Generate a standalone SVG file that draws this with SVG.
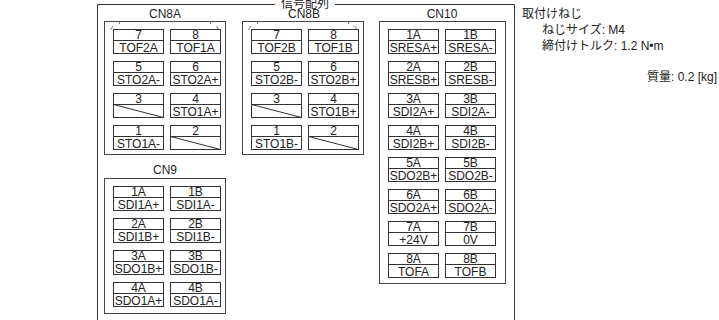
<svg xmlns="http://www.w3.org/2000/svg" width="719" height="320" viewBox="0 0 719 320">
<style>
.t{font-family:"Liberation Sans","Noto Sans CJK JP",sans-serif;font-size:12px;fill:#222;}
.c{text-anchor:middle;}
.box{fill:none;stroke:#444;stroke-width:1;}
.cell{fill:#fff;stroke:#333;stroke-width:1;}
.ln{stroke:#333;stroke-width:1;fill:none;}
.tick{stroke:#555;stroke-width:0.8;fill:none;}
</style>
<rect width="719" height="320" fill="#fff"/>
<g id="frame">
<path class="ln" d="M275,4.5 H97.5 V330 M335,4.5 H514.5 V330"/>
<text class="t c" x="305" y="8">信号配列</text>
</g>
<g id="CN8A">
<text class="t c" x="165" y="18">CN8A</text>
<rect class="box" x="104.5" y="21.5" width="121" height="133"/>
<path class="tick" d="M110.5,30 L113,26 M119.5,21.5 V24 M219,30 L216.5,26 M210.5,21.5 V24"/>
<g id="CN8A-7"><rect class="cell" x="113.5" y="29.5" width="50" height="24"/><path class="ln" d="M113.5,40.5 H163.5"/><text class="t c" x="138.5" y="39">7</text><text class="t c" x="138.5" y="51.5">TOF2A</text></g>
<g id="CN8A-8"><rect class="cell" x="170.5" y="29.5" width="50" height="24"/><path class="ln" d="M170.5,40.5 H220.5"/><text class="t c" x="195.5" y="39">8</text><text class="t c" x="195.5" y="51.5">TOF1A</text></g>
<g id="CN8A-5"><rect class="cell" x="113.5" y="61.5" width="50" height="24"/><path class="ln" d="M113.5,72.5 H163.5"/><text class="t c" x="138.5" y="71">5</text><text class="t c" x="138.5" y="83.5">STO2A-</text></g>
<g id="CN8A-6"><rect class="cell" x="170.5" y="61.5" width="50" height="24"/><path class="ln" d="M170.5,72.5 H220.5"/><text class="t c" x="195.5" y="71">6</text><text class="t c" x="195.5" y="83.5">STO2A+</text></g>
<g id="CN8A-3"><rect class="cell" x="113.5" y="93.5" width="50" height="24"/><path class="ln" d="M113.5,104.5 H163.5 M113.5,104.5 L163.5,117.5"/><text class="t c" x="138.5" y="103">3</text></g>
<g id="CN8A-4"><rect class="cell" x="170.5" y="93.5" width="50" height="24"/><path class="ln" d="M170.5,104.5 H220.5"/><text class="t c" x="195.5" y="103">4</text><text class="t c" x="195.5" y="115.5">STO1A+</text></g>
<g id="CN8A-1"><rect class="cell" x="113.5" y="125.5" width="50" height="24"/><path class="ln" d="M113.5,136.5 H163.5"/><text class="t c" x="138.5" y="135">1</text><text class="t c" x="138.5" y="147.5">STO1A-</text></g>
<g id="CN8A-2"><rect class="cell" x="170.5" y="125.5" width="50" height="24"/><path class="ln" d="M170.5,136.5 H220.5 M170.5,136.5 L220.5,149.5"/><text class="t c" x="195.5" y="135">2</text></g>
</g>
<g id="CN8B">
<text class="t c" x="304" y="18">CN8B</text>
<rect class="box" x="242.5" y="21.5" width="121" height="133"/>
<path class="tick" d="M248.5,30 L251,26 M257.5,21.5 V24 M357,30 L354.5,26 M348.5,21.5 V24"/>
<g id="CN8B-7"><rect class="cell" x="251.5" y="29.5" width="50" height="24"/><path class="ln" d="M251.5,40.5 H301.5"/><text class="t c" x="276.5" y="39">7</text><text class="t c" x="276.5" y="51.5">TOF2B</text></g>
<g id="CN8B-8"><rect class="cell" x="308.5" y="29.5" width="50" height="24"/><path class="ln" d="M308.5,40.5 H358.5"/><text class="t c" x="333.5" y="39">8</text><text class="t c" x="333.5" y="51.5">TOF1B</text></g>
<g id="CN8B-5"><rect class="cell" x="251.5" y="61.5" width="50" height="24"/><path class="ln" d="M251.5,72.5 H301.5"/><text class="t c" x="276.5" y="71">5</text><text class="t c" x="276.5" y="83.5">STO2B-</text></g>
<g id="CN8B-6"><rect class="cell" x="308.5" y="61.5" width="50" height="24"/><path class="ln" d="M308.5,72.5 H358.5"/><text class="t c" x="333.5" y="71">6</text><text class="t c" x="333.5" y="83.5">STO2B+</text></g>
<g id="CN8B-3"><rect class="cell" x="251.5" y="93.5" width="50" height="24"/><path class="ln" d="M251.5,104.5 H301.5 M251.5,104.5 L301.5,117.5"/><text class="t c" x="276.5" y="103">3</text></g>
<g id="CN8B-4"><rect class="cell" x="308.5" y="93.5" width="50" height="24"/><path class="ln" d="M308.5,104.5 H358.5"/><text class="t c" x="333.5" y="103">4</text><text class="t c" x="333.5" y="115.5">STO1B+</text></g>
<g id="CN8B-1"><rect class="cell" x="251.5" y="125.5" width="50" height="24"/><path class="ln" d="M251.5,136.5 H301.5"/><text class="t c" x="276.5" y="135">1</text><text class="t c" x="276.5" y="147.5">STO1B-</text></g>
<g id="CN8B-2"><rect class="cell" x="308.5" y="125.5" width="50" height="24"/><path class="ln" d="M308.5,136.5 H358.5 M308.5,136.5 L358.5,149.5"/><text class="t c" x="333.5" y="135">2</text></g>
</g>
<g id="CN10">
<text class="t c" x="442" y="18">CN10</text>
<rect class="box" x="379.5" y="21.5" width="126" height="262"/>
<g id="CN10-1A"><rect class="cell" x="388.5" y="29.5" width="50" height="24"/><path class="ln" d="M388.5,40.5 H438.5"/><text class="t c" x="413.5" y="39">1A</text><text class="t c" x="413.5" y="51.5">SRESA+</text></g>
<g id="CN10-1B"><rect class="cell" x="445.5" y="29.5" width="50" height="24"/><path class="ln" d="M445.5,40.5 H495.5"/><text class="t c" x="470.5" y="39">1B</text><text class="t c" x="470.5" y="51.5">SRESA-</text></g>
<g id="CN10-2A"><rect class="cell" x="388.5" y="61.5" width="50" height="24"/><path class="ln" d="M388.5,72.5 H438.5"/><text class="t c" x="413.5" y="71">2A</text><text class="t c" x="413.5" y="83.5">SRESB+</text></g>
<g id="CN10-2B"><rect class="cell" x="445.5" y="61.5" width="50" height="24"/><path class="ln" d="M445.5,72.5 H495.5"/><text class="t c" x="470.5" y="71">2B</text><text class="t c" x="470.5" y="83.5">SRESB-</text></g>
<g id="CN10-3A"><rect class="cell" x="388.5" y="93.5" width="50" height="24"/><path class="ln" d="M388.5,104.5 H438.5"/><text class="t c" x="413.5" y="103">3A</text><text class="t c" x="413.5" y="115.5">SDI2A+</text></g>
<g id="CN10-3B"><rect class="cell" x="445.5" y="93.5" width="50" height="24"/><path class="ln" d="M445.5,104.5 H495.5"/><text class="t c" x="470.5" y="103">3B</text><text class="t c" x="470.5" y="115.5">SDI2A-</text></g>
<g id="CN10-4A"><rect class="cell" x="388.5" y="125.5" width="50" height="24"/><path class="ln" d="M388.5,136.5 H438.5"/><text class="t c" x="413.5" y="135">4A</text><text class="t c" x="413.5" y="147.5">SDI2B+</text></g>
<g id="CN10-4B"><rect class="cell" x="445.5" y="125.5" width="50" height="24"/><path class="ln" d="M445.5,136.5 H495.5"/><text class="t c" x="470.5" y="135">4B</text><text class="t c" x="470.5" y="147.5">SDI2B-</text></g>
<g id="CN10-5A"><rect class="cell" x="388.5" y="157.5" width="50" height="24"/><path class="ln" d="M388.5,168.5 H438.5"/><text class="t c" x="413.5" y="167">5A</text><text class="t c" x="413.5" y="179.5">SDO2B+</text></g>
<g id="CN10-5B"><rect class="cell" x="445.5" y="157.5" width="50" height="24"/><path class="ln" d="M445.5,168.5 H495.5"/><text class="t c" x="470.5" y="167">5B</text><text class="t c" x="470.5" y="179.5">SDO2B-</text></g>
<g id="CN10-6A"><rect class="cell" x="388.5" y="189.5" width="50" height="24"/><path class="ln" d="M388.5,200.5 H438.5"/><text class="t c" x="413.5" y="199">6A</text><text class="t c" x="413.5" y="211.5">SDO2A+</text></g>
<g id="CN10-6B"><rect class="cell" x="445.5" y="189.5" width="50" height="24"/><path class="ln" d="M445.5,200.5 H495.5"/><text class="t c" x="470.5" y="199">6B</text><text class="t c" x="470.5" y="211.5">SDO2A-</text></g>
<g id="CN10-7A"><rect class="cell" x="388.5" y="221.5" width="50" height="24"/><path class="ln" d="M388.5,232.5 H438.5"/><text class="t c" x="413.5" y="231">7A</text><text class="t c" x="413.5" y="243.5">+24V</text></g>
<g id="CN10-7B"><rect class="cell" x="445.5" y="221.5" width="50" height="24"/><path class="ln" d="M445.5,232.5 H495.5"/><text class="t c" x="470.5" y="231">7B</text><text class="t c" x="470.5" y="243.5">0V</text></g>
<g id="CN10-8A"><rect class="cell" x="388.5" y="253.5" width="50" height="24"/><path class="ln" d="M388.5,264.5 H438.5"/><text class="t c" x="413.5" y="263">8A</text><text class="t c" x="413.5" y="275.5">TOFA</text></g>
<g id="CN10-8B"><rect class="cell" x="445.5" y="253.5" width="50" height="24"/><path class="ln" d="M445.5,264.5 H495.5"/><text class="t c" x="470.5" y="263">8B</text><text class="t c" x="470.5" y="275.5">TOFB</text></g>
</g>
<g id="CN9">
<text class="t c" x="165" y="174">CN9</text>
<rect class="box" x="104.5" y="178.5" width="121" height="135"/>
<g id="CN9-1A"><rect class="cell" x="113.5" y="186.5" width="50" height="24"/><path class="ln" d="M113.5,197.5 H163.5"/><text class="t c" x="138.5" y="196">1A</text><text class="t c" x="138.5" y="208.5">SDI1A+</text></g>
<g id="CN9-1B"><rect class="cell" x="170.5" y="186.5" width="50" height="24"/><path class="ln" d="M170.5,197.5 H220.5"/><text class="t c" x="195.5" y="196">1B</text><text class="t c" x="195.5" y="208.5">SDI1A-</text></g>
<g id="CN9-2A"><rect class="cell" x="113.5" y="218.5" width="50" height="24"/><path class="ln" d="M113.5,229.5 H163.5"/><text class="t c" x="138.5" y="228">2A</text><text class="t c" x="138.5" y="240.5">SDI1B+</text></g>
<g id="CN9-2B"><rect class="cell" x="170.5" y="218.5" width="50" height="24"/><path class="ln" d="M170.5,229.5 H220.5"/><text class="t c" x="195.5" y="228">2B</text><text class="t c" x="195.5" y="240.5">SDI1B-</text></g>
<g id="CN9-3A"><rect class="cell" x="113.5" y="250.5" width="50" height="24"/><path class="ln" d="M113.5,261.5 H163.5"/><text class="t c" x="138.5" y="260">3A</text><text class="t c" x="138.5" y="272.5">SDO1B+</text></g>
<g id="CN9-3B"><rect class="cell" x="170.5" y="250.5" width="50" height="24"/><path class="ln" d="M170.5,261.5 H220.5"/><text class="t c" x="195.5" y="260">3B</text><text class="t c" x="195.5" y="272.5">SDO1B-</text></g>
<g id="CN9-4A"><rect class="cell" x="113.5" y="282.5" width="50" height="24"/><path class="ln" d="M113.5,293.5 H163.5"/><text class="t c" x="138.5" y="292">4A</text><text class="t c" x="138.5" y="304.5">SDO1A+</text></g>
<g id="CN9-4B"><rect class="cell" x="170.5" y="282.5" width="50" height="24"/><path class="ln" d="M170.5,293.5 H220.5"/><text class="t c" x="195.5" y="292">4B</text><text class="t c" x="195.5" y="304.5">SDO1A-</text></g>
</g>
<g id="notes">
<text class="t" x="522" y="18">取付けねじ</text>
<text class="t" x="542" y="34">ねじサイズ: M4</text>
<text class="t" x="542" y="50">締付けトルク: 1.2 N•m</text>
<text class="t" x="717" y="81" text-anchor="end">質量: 0.2 [kg]</text>
</g>
<g id="connectors"></g>
</svg>
